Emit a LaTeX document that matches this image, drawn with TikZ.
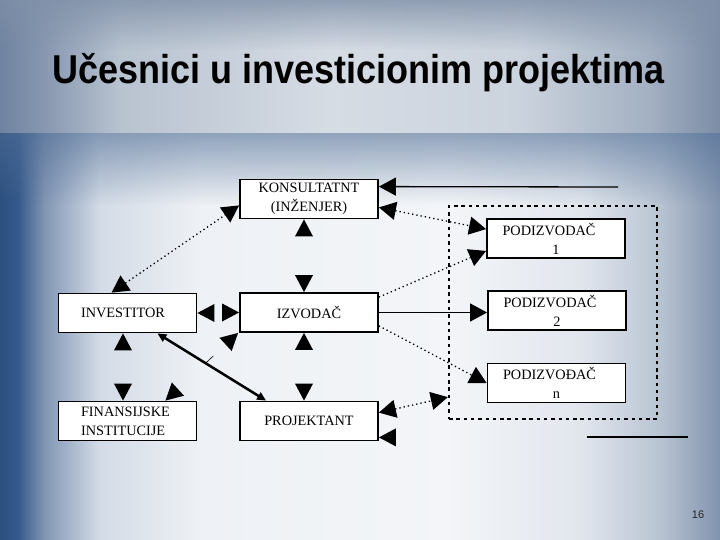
\documentclass[tikz,border=0pt]{standalone}
\usepackage{fontspec}
\usepackage{graphicx}
\setmainfont{Liberation Serif}
\newfontfamily\titlefont{Liberation Sans}
\usetikzlibrary{arrows.meta,calc,fadings}

\definecolor{b0}{HTML}{2B4F7F}
\definecolor{b1}{HTML}{35598A}
\definecolor{b2}{HTML}{8296B4}
\definecolor{b3}{HTML}{D3DBE6}
\definecolor{b4}{HTML}{EEF1F5}
\definecolor{b5}{HTML}{F3F5F8}
\definecolor{b6}{HTML}{E1E6ED}
\definecolor{b7}{HTML}{B9C4D3}
\definecolor{b8}{HTML}{8193AD}
\definecolor{t0}{HTML}{6F83A0}
\definecolor{t1}{HTML}{8595AE}
\definecolor{t2}{HTML}{B8C3D0}
\definecolor{t3}{HTML}{D6DCE4}
\definecolor{t4}{HTML}{CBD3DD}
\definecolor{t5}{HTML}{A3B0C2}
\definecolor{t6}{HTML}{7B8CA5}
\definecolor{topdark}{HTML}{7F90A8}
\definecolor{banddark}{HTML}{506E96}

\pgfdeclarehorizontalshading{bodyshade}{100bp}{color(0bp)=(b0); color(25bp)=(b0); color(26.25bp)=(b1); color(28.1bp)=(b2); color(31.9bp)=(b3); color(38.9bp)=(b4); color(56.25bp)=(b5); color(65.3bp)=(b6); color(70.8bp)=(b7); color(75bp)=(b8); color(100bp)=(b8)}
\pgfdeclarehorizontalshading{topshade}{100bp}{color(0bp)=(t0); color(25bp)=(t0); color(27.78bp)=(t1); color(33.33bp)=(t2); color(47.92bp)=(t3); color(61.11bp)=(t4); color(70.14bp)=(t5); color(75bp)=(t6); color(100bp)=(t6)}

\tikzfading[name=fadedown, top color=transparent!0, bottom color=transparent!100]

\tikzset{
  tipA/.tip={Triangle[length=17pt,width=18pt]},
  tipS/.tip={Triangle[length=9pt,width=8pt]},
  box/.style={draw=black, line width=1.8pt, fill=white, minimum width=138pt,
    minimum height=39pt, inner sep=0pt, font=\fontsize{14.3}{19}\selectfont, align=center},
  grpbox/.style={draw=black, line width=2.3pt, dash pattern=on 3.5pt off 3.8pt,
    minimum width=208pt, minimum height=213pt, inner sep=0pt},
  dotline/.style={line width=1.3pt, dash pattern=on 1.3pt off 3pt},
  thinline/.style={line width=1.3pt},
  tiptri/.pic={\fill[black] (0,0) -- (-17,-9) -- (-17,9) -- cycle;},
}

\begin{document}
\begin{tikzpicture}[x=1pt,y=-1pt]
\useasboundingbox (0,0) rectangle (720,540);
% background
\shade[shading=bodyshade] (0,0) rectangle (720,540);
\shade[shading=topshade] (0,0) rectangle (720,133);
\fill[topdark, opacity=0.8, path fading=fadedown] (0,0) rectangle (720,50);
\fill[banddark, opacity=0.6, path fading=fadedown] (0,133) rectangle (720,205);

% title and page number
\node[anchor=base west, inner sep=0pt, font=\titlefont\bfseries\fontsize{36}{40}\selectfont] (title) at (52,84) {\scalebox{1}[1.12]{Učesnici u investicionim projektima}};
\node[font=\titlefont\fontsize{11}{13}\selectfont, text=black!85] (pnum) at (698,515) {16};

% group of subcontractors
\node[grpbox] (grp) at (553,312.5) {};

% boxes
\node[box] (kon) at (309,199) {KONSULTATNT\\(INŽENJER)};
\node[box, text width=93pt, align=left] (inv) at (127.5,313) {INVESTITOR};
\node[box] (izv) at (309,312.5) {IZVODAČ};
\node[box, text width=93pt, align=left] (fin) at (127.5,421) {FINANSIJSKE\\INSTITUCIJE};
\node[box] (proj) at (309,421) {PROJEKTANT};
\node[box] (p1) at (556,238.5) {PODIZVODAČ\hspace*{14pt}\\1};
\node[box] (p2) at (557,310.5) {PODIZVODAČ\hspace*{14pt}\\2};
\node[box] (pn) at (556.5,383) {PODIZVOĐAČ\hspace*{14pt}\\n};

% left part
\draw[dotline, tipA-tipA] ($(inv.north west)+(54,0)$) -- ($(kon.south west)+(0,-14)$);
\pic[rotate=90] at ($(kon.south)+(-5,0)$) {tiptri};
\pic[rotate=-90] at ($(izv.north)+(-5,0)$) {tiptri};
\pic[rotate=180] at (inv.east) {tiptri};
\pic at (izv.west) {tiptri};
\pic[rotate=90] at ($(inv.south)+(-4.5,0)$) {tiptri};
\pic[rotate=-90] at ($(fin.north)+(-4.5,0)$) {tiptri};
\pic[rotate=90] at ($(izv.south)+(-5,0)$) {tiptri};
\pic[rotate=-90] at ($(proj.north)+(-5,0)$) {tiptri};

\coordinate (fa) at ($(fin.north east)+(-32,0)$);
\coordinate (fb) at ($(izv.south west)+(-1,0)$);
\pic[rotate=222.6] at (fa) {tiptri};
\pic[rotate=42.6] at (fb) {tiptri};
\draw[line width=0.6pt] ($(fa)!0.55!(fb)$) -- ($(fa)!0.66!(fb)$);

\draw[line width=2.5pt, tipS-tipS] ($(inv.south east)+(-40,0)$) -- ($(proj.north west)+(27,0)$);

% right part
\coordinate (ktop) at (618,187);
\draw[thinline, -tipA] (ktop) -- ($(kon.north east)+(0,8)$);
\draw[dotline, tipA-tipA] ($(kon.south east)+(0,-12)$) -- ($(p1.north west)+(0,11)$);
\draw[dotline, -tipA] ($(izv.north east)+(0,5)$) -- ($(p1.south west)+(0,-8)$);
\draw[thinline, -tipA] (izv.east) -- (izv.east -| p2.west);
\draw[dotline, -tipA] ($(izv.south east)+(0,-7)$) -- (pn.west);
\draw[dotline, tipA-tipA] ($(proj.north east)+(0,12)$) -- ($(grp.south west)+(0,-23)$);

\coordinate (bl1) at (587,437);
\coordinate (bl2) at (688,437);
\draw[thinline] (bl1) -- (bl2);
\pic[rotate=180] at ($(proj.south east)+(0,-4)$) {tiptri};
\end{tikzpicture}
\end{document}
